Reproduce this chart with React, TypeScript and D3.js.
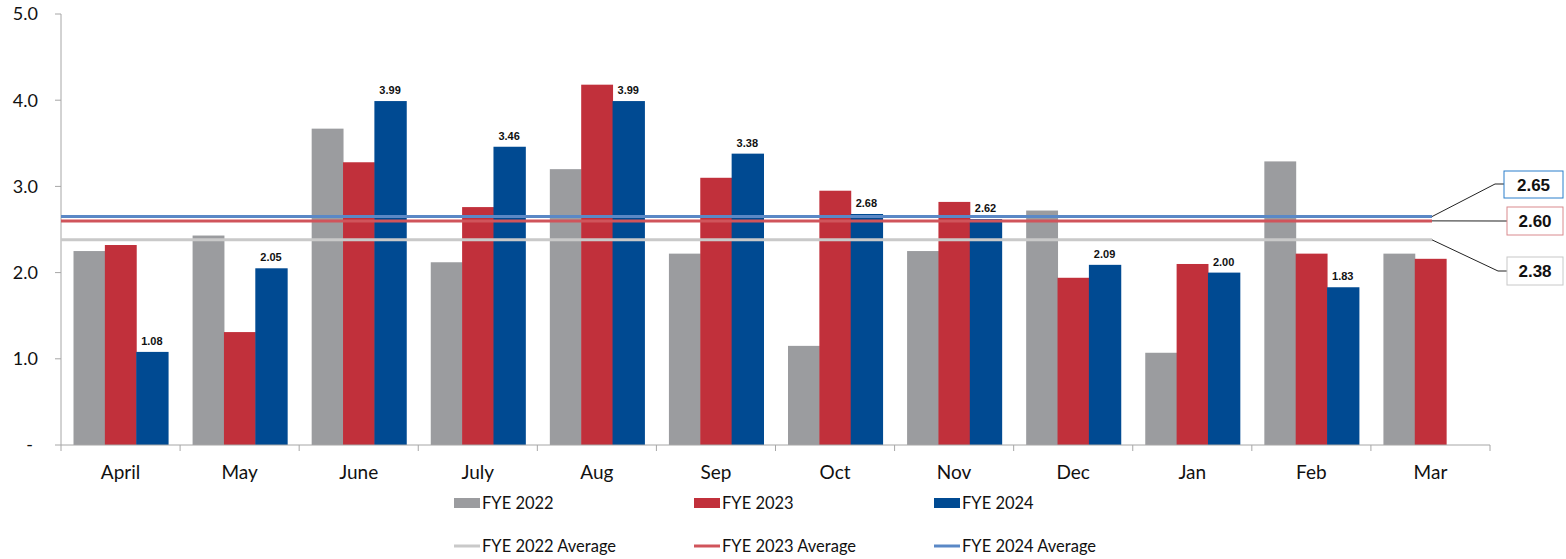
import React from "react";
import * as d3 from "d3";

const months = ["April", "May", "June", "July", "Aug", "Sep", "Oct", "Nov", "Dec", "Jan", "Feb", "Mar"];
const fye2022 = [2.25, 2.43, 3.67, 2.12, 3.2, 2.22, 1.15, 2.25, 2.72, 1.07, 3.29, 2.22];
const fye2023 = [2.32, 1.31, 3.28, 2.76, 4.18, 3.1, 2.95, 2.82, 1.94, 2.1, 2.22, 2.16];
const fye2024: (number | null)[] = [1.08, 2.05, 3.99, 3.46, 3.99, 3.38, 2.68, 2.62, 2.09, 2.0, 1.83, null];
const averages = [2.38, 2.6, 2.65];
const seriesNames = ["FYE 2022", "FYE 2023", "FYE 2024"];
const avgNames = ["FYE 2022 Average", "FYE 2023 Average", "FYE 2024 Average"];
const yTicks = [0, 1, 2, 3, 4, 5];

const barColors = ["#9b9c9f", "#c1303b", "#004a92"];
const avgColors = ["#c9c9c9", "#d0545b", "#5a88c6"];
const boxBorders = ["#c8c8c8", "#d98a8e", "#2b7fcb"];

const W = 1566;
const H = 559;
const left = 61;
const right = 1490;
const top = 14;
const bottom = 445;

export default function App() {
  const x = d3.scaleBand<string>().domain(months).range([left, right]).paddingInner(0.21).paddingOuter(0.105);
  const x1 = d3.scaleBand<string>().domain(seriesNames).range([0, x.bandwidth()]);
  const y = d3.scaleLinear().domain([0, 5]).range([bottom, top]);
  const series = [fye2022, fye2023, fye2024];
  const avgEnd = 1432;
  const font = "Lato, 'Open Sans', sans-serif";
  const boxes = [
    { x: 1507, y: 257, w: 56, h: 28, ly: 271 },
    { x: 1507, y: 207, w: 56, h: 28, ly: 221 },
    { x: 1504, y: 171, w: 59, h: 27, ly: 184 },
  ];
  const step = x.step();
  return (
    <svg width={W} height={H} style={{ position: "absolute", left: 0, top: 0, background: "#fff" }}>
      {/* y axis */}
      <line x1={left} x2={left} y1={top} y2={bottom} stroke="#a6a6a6" strokeWidth={1} />
      {yTicks.map((t) => (
        <g key={t}>
          <line x1={left - 6} x2={left} y1={y(t)} y2={y(t)} stroke="#a6a6a6" />
          <text x={t === 0 ? 33 : 38} y={y(t)} dy="0.35em" textAnchor="end" fontFamily={font} fontSize={18} fill="#111">
            {t === 0 ? "-" : t.toFixed(1)}
          </text>
        </g>
      ))}
      {/* bars */}
      {months.map((m, i) => (
        <g key={m}>
          {series.map((s, j) => {
            const v = s[i];
            if (v == null) return null;
            const bx = (x(m) as number) + (x1(seriesNames[j]) as number);
            return (
              <rect key={j} x={bx} y={y(v)} width={x1.bandwidth() + (j === 2 ? 1 : 0.5)} height={bottom - y(v)} fill={barColors[j]} />
            );
          })}
          {fye2024[i] != null && (
            <text
              x={(x(m) as number) + (x1("FYE 2024") as number) + x1.bandwidth() / 2}
              y={y(fye2024[i] as number) - 7}
              textAnchor="middle"
              fontFamily="Arial, 'Liberation Sans', sans-serif"
              fontWeight="bold"
              fontSize={11}
              fill="#111"
            >
              {(fye2024[i] as number).toFixed(2)}
            </text>
          )}
        </g>
      ))}
      {/* x axis */}
      <line x1={left} x2={right} y1={bottom} y2={bottom} stroke="#a6a6a6" />
      {d3.range(months.length + 1).map((k) => (
        <line key={k} x1={left + k * step} x2={left + k * step} y1={bottom} y2={bottom + 6} stroke="#a6a6a6" />
      ))}
      {months.map((m) => (
        <text key={m} x={(x(m) as number) + x.bandwidth() / 2} y={479} textAnchor="middle" fontFamily={font} fontSize={19} fill="#111">
          {m}
        </text>
      ))}
      {/* average lines */}
      {averages.map((a, j) => (
        <g key={j}>
          <line x1={left} x2={avgEnd} y1={y(a)} y2={y(a)} stroke={avgColors[j]} strokeWidth={3} />
          <polyline
            points={`${avgEnd},${y(a)} ${boxes[j].x - 9},${boxes[j].ly} ${boxes[j].x},${boxes[j].ly}`}
            fill="none"
            stroke="#222"
            strokeWidth={1}
          />
          <rect x={boxes[j].x} y={boxes[j].y} width={boxes[j].w} height={boxes[j].h} fill="#fff" stroke={boxBorders[j]} strokeWidth={1} />
          <text
            x={boxes[j].x + boxes[j].w / 2}
            y={boxes[j].y + boxes[j].h / 2}
            dy="0.36em"
            textAnchor="middle"
            fontFamily="Arial, 'Liberation Sans', sans-serif"
            fontWeight="bold"
            fontSize={17}
            fill="#111"
          >
            {a.toFixed(2)}
          </text>
        </g>
      ))}
      {/* legend */}
      {seriesNames.map((n, j) => {
        const lx = [454, 694, 934][j];
        return (
          <g key={n}>
            <rect x={lx} y={498} width={26} height={10} fill={barColors[j]} />
            <text x={lx + 28} y={503} dy="0.35em" fontFamily={font} fontSize={16.5} fill="#111">
              {n}
            </text>
            <line x1={lx} x2={lx + 26} y1={546} y2={546} stroke={avgColors[j]} strokeWidth={3} />
            <text x={lx + 28} y={546} dy="0.35em" fontFamily={font} fontSize={16.5} fill="#111">
              {avgNames[j]}
            </text>
          </g>
        );
      })}
    </svg>
  );
}
